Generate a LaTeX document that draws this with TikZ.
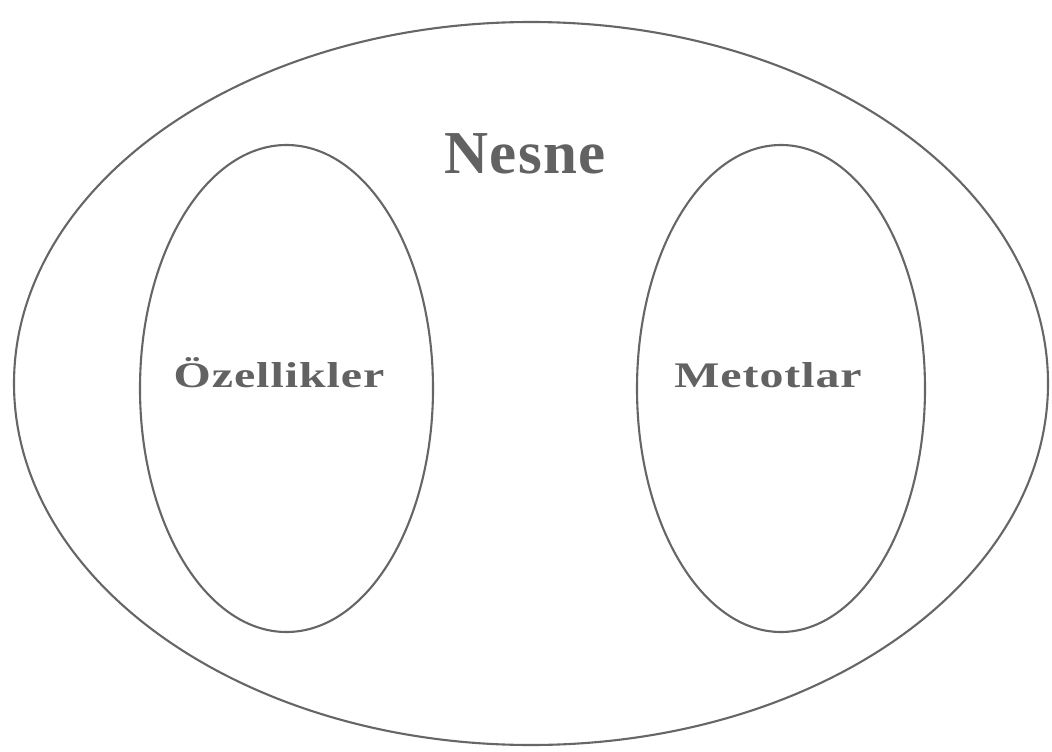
\documentclass[tikz,border=0pt]{standalone}
\usepackage{fontspec}
\setmainfont{Liberation Serif}
\usetikzlibrary{shapes.geometric}
\definecolor{ink}{HTML}{626262}
\definecolor{linegray}{HTML}{666666}
\newcommand{\widentext}[1]{\scalebox{1.33}[1]{#1}}
\tikzset{
  oval/.style={draw=linegray, line width=2.1pt, ellipse, inner sep=0pt},
  bigword/.style={text=ink, font=\fontsize{61}{70}\selectfont\bfseries\addfontfeatures{LetterSpace=2}, anchor=base, inner sep=0pt},
  word/.style={text=ink, font=\fontsize{36}{40}\selectfont\bfseries\addfontfeatures{LetterSpace=2}, anchor=base, inner sep=0pt}
}
\begin{document}
\begin{tikzpicture}[x=1pt,y=-1pt]
\useasboundingbox (0,0) rectangle (1052,752);
\fill[white] (0,0) rectangle (1052,752);
\node[oval, minimum width=1034pt, minimum height=723pt] (nesneoval) at (531,383.5) {};
\node[oval, minimum width=293pt, minimum height=487pt] (ozoval) at (286.5,388.5) {};
\node[oval, minimum width=288pt, minimum height=487pt] (metoval) at (781,388.5) {};
\node[bigword] (nesne) at (525,173) {Nesne};
\node[word] (oz) at (279,387) {\widentext{Özellikler}};
\node[word] (met) at (768,387) {\widentext{Metotlar}};
\end{tikzpicture}
\end{document}
